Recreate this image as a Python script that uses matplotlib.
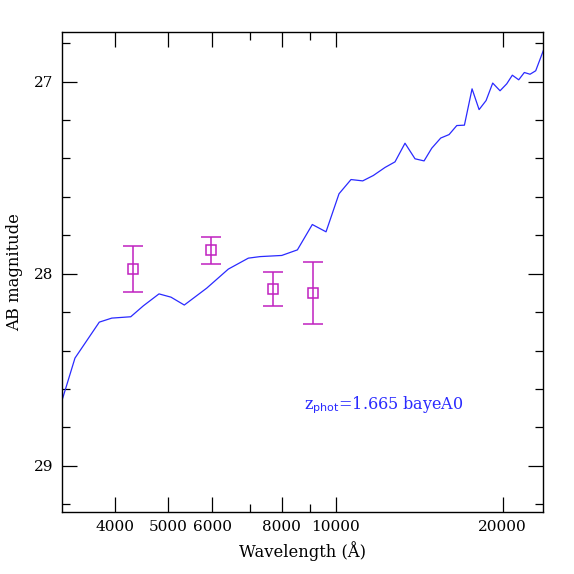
import numpy as np
import matplotlib
matplotlib.use("Agg")
import matplotlib.pyplot as plt
from matplotlib.ticker import FixedLocator, NullFormatter, MultipleLocator

# template SED (wavelength in Angstrom, AB mag)
sed_wl = [3225, 3393, 3753, 3953, 4276, 4506, 4808, 5053, 5340, 5861,
          6410, 6965, 7311, 8000, 8537, 9082, 9614, 10146, 10664, 11194,
          11697, 12281, 12799, 13341, 13907, 14439, 14906, 15472, 16017, 16538,
          17070, 17620, 18142, 18675, 19196, 19789, 20345, 20824, 21383, 21887,
          22412, 22945, 23680]
sed_mag = [28.647, 28.439, 28.252, 28.231, 28.224, 28.167, 28.105, 28.122, 28.163, 28.075,
           27.976, 27.919, 27.911, 27.905, 27.876, 27.744, 27.782, 27.584, 27.510, 27.517,
           27.489, 27.447, 27.418, 27.321, 27.402, 27.413, 27.347, 27.294, 27.276, 27.229,
           27.227, 27.038, 27.146, 27.099, 27.008, 27.048, 27.012, 26.967, 26.991, 26.953,
           26.962, 26.944, 26.839]

# photometry
phot_wl = [4323, 5966, 7727, 9097]
phot_mag = [27.976, 27.877, 28.079, 28.101]
phot_err = [0.12, 0.07, 0.09, 0.16]

xticks_major = [4000, 5000, 6000, 8000, 10000, 20000]
xticks_minor = [7000, 9000]

label = r"z$_{\rm phot}$=1.665 bayeA0"

plt.rcParams['font.family'] = ['DejaVu Serif']

fig = plt.figure(figsize=(5.74, 5.74), dpi=100)
ax = fig.add_axes([0.108, 0.108, 0.838, 0.837])

ax.plot(sed_wl, sed_mag, color='#2a2aff', lw=0.9)
ax.errorbar(phot_wl, phot_mag, yerr=phot_err, fmt='s', mfc='none', mec='#c020c0',
            ecolor='#c020c0', ms=7.5, mew=1.1, elinewidth=1.1, capsize=7, capthick=1.1)

ax.set_xscale('log')
ax.set_xlim(3215, 23650)
ax.set_ylim(29.24, 26.74)

ax.xaxis.set_major_locator(FixedLocator(xticks_major))
ax.xaxis.set_minor_locator(FixedLocator(xticks_minor))
ax.set_xticklabels([str(t) for t in xticks_major])
ax.xaxis.set_minor_formatter(NullFormatter())
ax.yaxis.set_major_locator(MultipleLocator(1))
ax.yaxis.set_minor_locator(MultipleLocator(0.2))

ax.tick_params(which='major', direction='in', length=11, width=0.9, top=True, right=True,
               labelsize=11, pad=6)
ax.tick_params(which='minor', direction='in', length=5.5, width=0.9, top=True, right=True)
for s in ax.spines.values():
    s.set_linewidth(1.0)

ax.set_xlabel(u"Wavelength (\u00c5)", fontsize=11.8, labelpad=5)
ax.set_ylabel("AB magnitude", fontsize=11.8, labelpad=8)

ax.text(8774, 28.682, label, color='#2a2aff', fontsize=11.5, va='center', ha='left')

fig.savefig("out.png", dpi=100)
